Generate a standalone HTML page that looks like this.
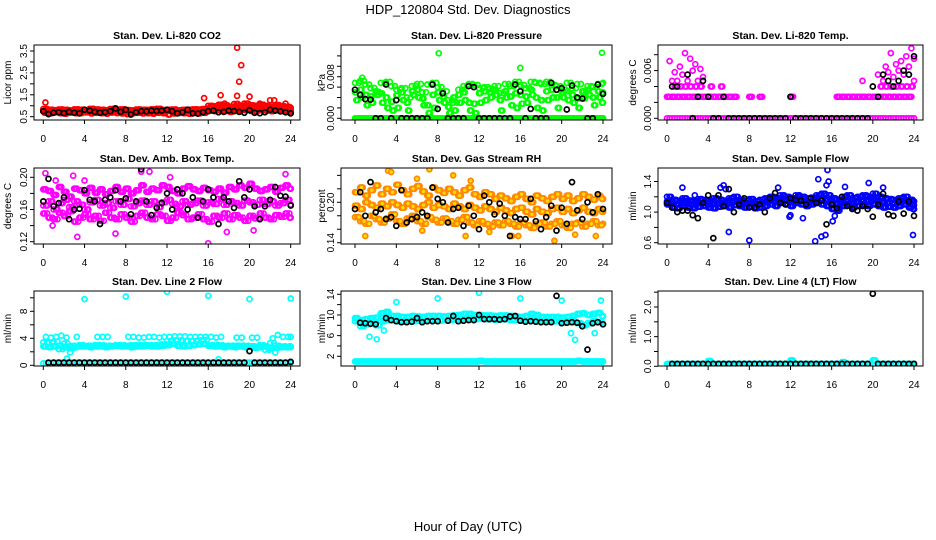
<!DOCTYPE html>
<html><head><meta charset="utf-8"><style>
html,body{margin:0;padding:0;background:#fff;}
svg{display:block;font-family:"Liberation Sans",sans-serif;}
</style></head><body>
<svg id="chart" width="936" height="540" viewBox="0 0 936 540" xmlns="http://www.w3.org/2000/svg">
<rect x="0" y="0" width="936" height="540" fill="#fff"/>
<text x="468" y="14" font-size="13" text-anchor="middle">HDP_120804  Std. Dev. Diagnostics</text>
<text x="468" y="531" font-size="13" text-anchor="middle">Hour of Day (UTC)</text>
</svg>
<script>
const hourTicks = [0,4,8,12,16,20,24];
const hours = [0,0.5,1,1.5,2,2.5,3,3.5,4,4.5,5,5.5,6,6.5,7,7.5,8,8.5,9,9.5,10,10.5,11,11.5,12,12.5,13,13.5,14,14.5,15,15.5,16,16.5,17,17.5,18,18.5,19,19.5,20,20.5,21,21.5,22,22.5,23,23.5,24];
const hoursOff = [0.25,0.75,1.25,1.75,2.25,2.75,3.25,3.75,4.25,4.75,5.25,5.75,6.25,6.75,7.25,7.75,8.25,8.75,9.25,9.75,10.25,10.75,11.25,11.75,12.25,12.75,13.25,13.75,14.25,14.75,15.25,15.75,16.25,16.75,17.25,17.75,18.25,18.75,19.25,19.75,20.25,20.75,21.25,21.75,22.25,22.75,23.25,23.75,24];
const hoursQ1 = [0.125,0.625,1.125,1.625,2.125,2.625,3.125,3.625,4.125,4.625,5.125,5.625,6.125,6.625,7.125,7.625,8.125,8.625,9.125,9.625,10.125,10.625,11.125,11.625,12.125,12.625,13.125,13.625,14.125,14.625,15.125,15.625,16.125,16.625,17.125,17.625,18.125,18.625,19.125,19.625,20.125,20.625,21.125,21.625,22.125,22.625,23.125,23.625,23.9];
const hoursQ3 = [0.375,0.875,1.375,1.875,2.375,2.875,3.375,3.875,4.375,4.875,5.375,5.875,6.375,6.875,7.375,7.875,8.375,8.875,9.375,9.875,10.375,10.875,11.375,11.875,12.375,12.875,13.375,13.875,14.375,14.875,15.375,15.875,16.375,16.875,17.375,17.875,18.375,18.875,19.375,19.875,20.375,20.875,21.375,21.875,22.375,22.875,23.375,23.875,24.5];

// CO2
const co2Red1 = [0.85,0.82,0.80,0.83,0.81,0.79,0.84,0.82,0.80,0.86,0.83,0.81,0.80,0.85,0.82,0.84,0.80,0.79,0.83,0.82,0.81,0.84,0.86,0.80,0.82,0.83,0.79,0.81,0.82,0.84,0.83,0.85,1.00,0.98,1.05,1.02,0.95,1.08,1.00,1.10,1.02,0.98,1.05,1.00,0.96,1.03,0.98,0.95,0.90];
const co2Red2 = [0.68,0.65,0.70,0.66,0.64,0.69,0.66,0.67,0.70,0.65,0.68,0.66,0.64,0.69,0.67,0.65,0.62,0.66,0.68,0.65,0.66,0.64,0.68,0.66,0.60,0.65,0.67,0.66,0.64,0.68,0.66,0.68,0.78,0.75,0.80,0.76,0.72,0.82,0.78,0.80,0.76,0.74,0.80,0.78,0.75,0.80,0.76,0.72,0.68];
const co2Red3 = [0.74,0.75,0.72,0.73,0.76,0.72,0.74,0.75,0.73,0.74,0.72,0.75,0.74,0.73,0.76,0.72,0.74,0.73,0.75,0.74,0.73,0.72,0.75,0.74,0.76,0.73,0.72,0.74,0.75,0.73,0.74,0.76,0.88,0.86,0.92,0.88,0.85,0.90,0.87,0.93,0.88,0.86,0.90,0.87,0.85,0.89,0.86,0.83,0.78];
const co2OutX = [0.2,15.6,17.2,17.6,18.8,18.8,19.0,19.2,20.0,20.6,21.0,22.0,22.4,23.5];
const co2OutY = [1.15,1.35,1.48,1.1,3.65,1.45,2.1,2.85,1.42,1.0,1.1,1.25,1.25,1.1];
const co2Black = [0.75,0.62,0.68,0.70,0.66,0.72,0.68,0.65,0.82,0.78,0.72,0.68,0.70,0.75,0.88,0.72,0.82,0.60,0.70,0.75,0.74,0.78,0.76,0.78,0.82,0.75,0.65,0.70,0.82,0.65,0.64,0.70,0.75,0.78,0.70,0.72,0.78,0.75,0.72,0.68,0.80,0.68,0.66,0.70,0.82,0.78,0.74,0.70,0.65];

// Pressure
const presZero = [0,0,0,0,0,0,0,0,0,0,0,0,0,0,0,0,0,0,0,0,0,0,0,0,0,0,0,0,0,0,0,0,0,0,0,0,0,0,0,0,0,0,0,0,0,0,0,0,0];
const presA = [0.0068,0.0072,0.0065,0.0058,0.0050,0.0068,0.0070,0.0062,0.0055,0.0058,0.0040,0.0062,0.0066,0.0050,0.0065,0.0068,0.0060,0.0052,0.0035,0.0030,0.0055,0.0062,0.0066,0.0064,0.0058,0.0060,0.0056,0.0062,0.0048,0.0066,0.0062,0.0070,0.0064,0.0058,0.0070,0.0068,0.0066,0.0070,0.0064,0.0062,0.0055,0.0068,0.0058,0.0066,0.0050,0.0062,0.0060,0.0066,0.0068];
const presB = [0.0035,0.0040,0.0025,0.0030,0.0045,0.0030,0.0020,0.0015,0.0020,0.0035,0.0015,0.0045,0.0040,0.0025,0.0010,0.0020,0.0035,0.0030,0.0010,0.0015,0.0030,0.0035,0.0015,0.0010,0.0030,0.0035,0.0040,0.0045,0.0015,0.0040,0.0025,0.0020,0.0028,0.0030,0.0045,0.0020,0.0015,0.0035,0.0040,0.0020,0.0040,0.0035,0.0030,0.0020,0.0038,0.0045,0.0025,0.0040,0.0030];
const presC = [0.0050,0.0055,0.0045,0.0042,0.0052,0.0048,0.0040,0.0032,0.0044,0.0050,0.0030,0.0052,0.0055,0.0038,0.0025,0.0045,0.0050,0.0042,0.0022,0.0040,0.0045,0.0050,0.0030,0.0028,0.0048,0.0052,0.0050,0.0055,0.0035,0.0052,0.0042,0.0048,0.0045,0.0042,0.0055,0.0040,0.0035,0.0052,0.0055,0.0040,0.0050,0.0052,0.0045,0.0038,0.0052,0.0055,0.0040,0.0052,0.0050];
const presOutX = [0.7,8.1,16.0,23.9];
const presOutY = [0.0078,0.0125,0.0097,0.0126];
const presBlack = [0.0055,0.0045,0.0037,0.0036,0,0,0.0065,0,0.0035,0,0,0,0,0,0,0.0065,0.0018,0.0048,0,0,0,0,0.0062,0.006,0,0,0,0,0,0,0,0.0065,0.0052,0,0.0018,0,0,0,0.0068,0.0055,0.0058,0.0017,0.0063,0.004,0.0038,0,0,0.0065,0.0047];

// Li-820 Temp
const tempZero = [0,0,0,0,0,0,0,0,0,0,0,0,0,0,0,0,0,0,0,0,0,0,0,0,0,0,0,0,0,0,0,0,0,0,0,0,0,0,0,0,0,0,0,0,0,0,0,0,0];
const tempRow1 = [0.0027,0.0027,0.0027,0.0027,0.0027,0.0027,0.0027,0.0027,0.0027,0.0027,0.0027,0.0027,0.0027,0.0027,null,null,0.0027,null,0.0027,null,null,null,null,null,0.0027,null,null,null,null,null,null,null,null,0.0027,0.0027,0.0027,0.0027,0.0027,0.0027,0.0027,0.0027,0.0027,0.0027,0.0027,0.0027,0.0027,0.0027,0.0027,null];
const tempRow2 = [null,0.004,0.004,0.004,0.004,0.004,0.004,null,0.004,null,0.004,null,null,null,null,null,null,null,null,null,null,null,null,null,null,null,null,null,null,null,null,null,null,null,null,null,null,null,null,null,null,0.004,0.004,0.004,0.004,0.004,0.004,0.004,null];
const tempRow3 = [null,0.0047,0.0047,0.0055,0.0047,0.006,0.0047,0.0052,null,null,null,null,null,null,null,null,null,null,null,null,null,null,null,null,null,null,null,null,null,null,null,null,null,null,null,null,null,null,0.0047,null,null,0.0055,0.0047,0.0058,0.0052,0.006,0.0055,0.0065,0.0047];
const tempRow4 = [0.0072,0.0058,0.0065,0.0082,0.0075,0.0068,0.0062,null,null,null,null,null,null,null,null,null,null,null,null,null,null,null,null,null,null,null,null,null,null,null,null,null,null,null,null,null,null,null,null,null,null,null,0.0065,0.0082,0.0068,0.0072,0.0078,0.0088,0.0075];
const tempBlack = [null,0.004,0.004,null,0.0055,0,0.0027,0.0047,0.0027,0,0,0.0027,0,0,0,0,0,0,0,0,0,0,0,0,0.0027,0,0,0,0,0,0,0,0,0,0,0,0,0,0,0,0.004,0.0027,0.0055,0.0047,0.004,0.0047,0.006,0.0055,0.0078];

// Amb box temp
const ambA = [0.185,0.183,0.178,0.188,0.182,0.176,0.186,0.184,0.180,0.187,0.181,0.185,0.179,0.183,0.188,0.182,0.186,0.180,0.184,0.190,0.182,0.186,0.184,0.190,0.188,0.183,0.180,0.186,0.189,0.185,0.183,0.187,0.184,0.182,0.186,0.181,0.188,0.185,0.190,0.187,0.192,0.186,0.183,0.185,0.188,0.182,0.187,0.190,0.186];
const ambB = [0.165,0.170,0.160,0.168,0.172,0.163,0.170,0.166,0.160,0.169,0.172,0.165,0.168,0.162,0.170,0.166,0.173,0.164,0.168,0.171,0.166,0.170,0.163,0.169,0.172,0.167,0.164,0.170,0.166,0.168,0.171,0.165,0.169,0.167,0.173,0.166,0.170,0.168,0.165,0.171,0.169,0.166,0.172,0.167,0.170,0.165,0.168,0.172,0.166];
const ambC = [0.155,0.150,0.148,0.156,0.152,0.158,0.145,0.150,0.154,0.148,0.152,0.146,0.156,0.150,0.148,0.154,0.150,0.145,0.152,0.156,0.150,0.148,0.154,0.152,0.146,0.150,0.156,0.153,0.148,0.150,0.154,0.148,0.145,0.152,0.150,0.155,0.148,0.153,0.150,0.146,0.152,0.149,0.155,0.150,0.148,0.153,0.151,0.155,0.150];
const ambOutX = [0.2,3.3,2.9,10.3,16.0,9.5,23.5,12.3,0.9,7.0,17.8,20.4,1.2,4.0];
const ambOutY = [0.205,0.126,0.202,0.207,0.118,0.207,0.204,0.200,0.140,0.130,0.132,0.134,0.196,0.196];
const ambBlack = [0.170,0.198,0.164,0.168,0.175,0.148,0.160,0.161,0.184,0.172,0.170,0.142,0.172,0.175,0.184,0.170,0.174,0.154,0.170,0.210,0.170,0.153,0.162,0.168,0.180,0.160,0.185,0.180,0.160,0.175,0.150,0.170,0.185,0.175,0.142,0.175,0.170,0.162,0.195,0.175,0.185,0.164,0.148,0.164,0.172,0.188,0.177,0.176,0.165];

// Gas stream RH
const rhA = [0.215,0.222,0.210,0.218,0.225,0.212,0.220,0.215,0.226,0.218,0.212,0.220,0.224,0.216,0.210,0.222,0.218,0.214,0.220,0.215,0.210,0.218,0.222,0.212,0.208,0.215,0.212,0.205,0.210,0.206,0.202,0.208,0.212,0.205,0.200,0.210,0.206,0.202,0.208,0.212,0.205,0.210,0.202,0.206,0.212,0.208,0.204,0.210,0.205];
const rhB = [0.195,0.190,0.200,0.196,0.192,0.198,0.194,0.200,0.196,0.192,0.198,0.194,0.190,0.196,0.200,0.192,0.196,0.194,0.190,0.198,0.194,0.190,0.196,0.192,0.188,0.194,0.190,0.186,0.192,0.188,0.184,0.190,0.192,0.186,0.182,0.190,0.186,0.184,0.190,0.192,0.186,0.190,0.184,0.188,0.192,0.186,0.184,0.190,0.186];
const rhC = [0.178,0.172,0.168,0.180,0.175,0.170,0.176,0.182,0.172,0.168,0.176,0.180,0.172,0.168,0.178,0.174,0.170,0.176,0.172,0.168,0.174,0.178,0.170,0.166,0.172,0.168,0.164,0.170,0.166,0.172,0.168,0.164,0.170,0.166,0.162,0.168,0.170,0.164,0.168,0.172,0.166,0.162,0.168,0.170,0.164,0.168,0.172,0.166,0.168];
const rhOutX = [3.2,3.5,7.2,9.5,6.0,11.2,15.8,19.3,1.0,15.2,21.3,10.7,23.3,6.5,13.0];
const rhOutY = [0.247,0.245,0.249,0.240,0.235,0.232,0.150,0.143,0.150,0.150,0.152,0.150,0.150,0.158,0.156];
const rhBlack = [0.190,0.215,0.180,0.230,0.185,0.190,0.175,0.178,0.165,0.218,0.170,0.175,0.178,0.185,0.180,0.222,0.205,0.200,0.170,0.190,0.192,0.165,0.195,0.180,0.160,0.210,0.200,0.182,0.198,0.180,0.150,0.178,0.175,0.175,0.205,0.172,0.160,0.178,0.195,0.158,0.192,0.168,0.230,0.188,0.175,0.200,0.185,0.212,0.190];

// Sample flow
const sfA = [1.20,1.16,1.15,1.18,1.15,1.14,1.17,1.16,1.15,1.18,1.16,1.15,1.18,1.20,1.16,1.15,1.17,1.14,1.16,1.18,1.20,1.18,1.22,1.20,1.18,1.22,1.20,1.18,1.19,1.22,1.24,1.22,1.18,1.16,1.20,1.22,1.18,1.20,1.22,1.20,1.24,1.20,1.18,1.17,1.16,1.18,1.20,1.16,1.14];
const sfB = [1.10,1.06,1.05,1.08,1.06,1.05,1.07,1.08,1.06,1.05,1.07,1.08,1.06,1.09,1.08,1.06,1.07,1.05,1.06,1.08,1.10,1.08,1.12,1.10,1.08,1.12,1.10,1.08,1.10,1.12,1.10,1.08,1.04,1.02,1.08,1.10,1.06,1.08,1.10,1.08,1.10,1.08,1.06,1.07,1.06,1.08,1.10,1.06,1.04];
const sfC = [1.14,1.11,1.10,1.12,1.11,1.10,1.12,1.12,1.10,1.12,1.11,1.12,1.12,1.14,1.12,1.10,1.12,1.10,1.11,1.13,1.15,1.13,1.17,1.15,1.13,1.17,1.15,1.13,1.14,1.17,1.17,1.15,1.12,1.10,1.14,1.16,1.12,1.14,1.16,1.14,1.17,1.14,1.12,1.12,1.11,1.13,1.15,1.11,1.09];
const sfOutX = [1.5,5.2,5.5,5.7,6.0,8.0,10.8,11.9,12.0,13.2,14.4,14.7,15.0,15.4,15.6,15.7,15.5,16.1,16.3,17.3,19.6,21.0,23.9,2.7];
const sfOutY = [1.32,1.32,1.35,1.30,0.74,0.63,1.32,0.94,0.96,0.92,0.62,1.43,0.68,0.70,1.55,1.40,1.35,0.88,0.95,1.33,1.38,1.32,0.70,1.22];
const sfBlack = [1.12,1.06,1.00,1.02,1.02,0.96,0.92,1.12,1.22,0.66,1.22,1.08,1.30,1.00,1.10,1.18,1.06,1.06,1.10,1.00,1.18,1.25,1.12,1.10,1.18,1.16,1.15,1.10,1.18,1.12,1.15,0.84,1.10,1.05,1.20,1.08,1.04,1.02,1.08,1.04,0.94,1.10,1.24,0.97,0.95,1.14,0.98,1.14,0.95];

// Line 2 flow
const l2Main = [2.8,2.7,2.8,2.9,2.7,2.8,2.7,2.8,2.8,2.7,2.8,2.8,2.7,2.8,2.9,2.8,2.8,2.7,2.8,2.8,2.9,2.8,2.8,2.9,3.0,3.2,2.9,2.8,2.9,3.0,3.1,3.2,2.9,2.8,2.8,2.7,2.8,2.7,2.8,2.7,2.8,2.6,2.7,2.8,2.5,2.6,2.7,2.7,2.7];
const l2Main2 = [3.4,3.3,3.5,2.4,3.2,2.5,2.9,3.0,2.9,2.9,3.0,3.0,2.9,2.9,3.0,3.0,2.9,3.0,3.0,3.0,3.0,3.0,3.0,3.1,3.6,3.7,3.7,3.6,3.6,3.6,3.7,3.8,3.0,3.0,3.0,2.9,2.9,2.9,2.9,2.9,2.8,2.8,3.0,2.3,3.3,2.9,2.8,2.8,2.8];
const l2Upper = [4.2,4.1,4.2,4.4,4.1,null,4.2,null,null,null,4.2,4.2,4.2,null,null,null,4.2,4.2,4.1,4.1,4.2,4.2,4.1,4.2,4.2,4.3,4.3,4.3,4.2,4.2,4.2,4.2,4.2,4.1,4.2,null,null,4.1,4.1,null,4.1,4.1,null,null,4.0,4.5,4.2,4.2,4.2];
const l2Low = [0.3,0.35,0.4,0.4,0.4,0.4,0.4,0.4,0.4,0.4,0.4,0.4,0.4,0.4,0.4,0.4,0.4,0.4,0.4,0.4,0.4,0.4,0.4,0.4,0.4,0.4,0.4,0.4,0.4,0.4,0.4,0.4,0.4,0.4,0.4,0.4,0.4,0.4,0.4,0.4,0.4,0.4,0.4,0.4,0.4,0.4,0.4,0.4,0.4];
const l2OutX = [4.0,8.0,12.0,16.0,20.0,24.0,2.3,2.6,17.0,22.5];
const l2OutY = [9.8,10.2,10.9,10.3,9.8,9.9,1.0,1.9,0.9,1.9];
const l2Black = [null,0.4,0.4,0.4,0.4,0.4,0.4,0.4,0.4,0.4,0.4,0.4,0.4,0.4,0.4,0.4,0.4,0.4,0.4,0.4,0.4,0.4,0.4,0.4,0.4,0.4,0.4,0.4,0.4,0.4,0.4,0.4,0.4,0.4,0.4,0.4,0.4,0.4,0.4,0.4,2.1,0.4,0.4,0.4,0.4,0.4,0.4,0.4,0.5];

// Line 3 flow
const l3Low = [1.0,1.0,1.0,1.0,1.0,1.0,1.0,1.0,1.0,1.0,1.0,1.0,1.0,1.0,1.0,1.0,1.0,1.0,1.0,1.0,1.0,1.0,1.0,1.0,1.1,1.0,1.0,1.0,1.0,1.0,1.0,1.0,1.0,1.0,1.0,1.0,1.0,1.0,1.0,1.0,1.0,1.0,1.0,1.1,1.0,1.0,1.0,1.0,1.0];
const l3A = [9.4,9.0,9.2,9.4,9.5,10.3,10.6,9.8,9.8,9.6,9.6,9.8,9.7,9.6,9.8,9.8,9.8,9.7,9.8,9.9,10.0,10.2,10.2,10.0,10.0,9.9,9.9,9.8,9.9,9.9,9.8,9.7,9.6,9.8,10.2,10.0,9.6,9.6,9.6,9.6,9.5,9.6,9.8,10.2,10.3,10.0,10.2,10.4,9.8];
const l3B = [8.8,7.8,8.2,8.5,8.0,8.8,9.0,9.0,8.8,8.9,8.9,8.8,8.9,8.9,9.0,9.0,8.9,9.0,9.0,9.1,9.2,9.3,9.2,9.2,9.3,9.2,9.2,9.1,9.2,9.2,9.0,9.0,8.9,9.0,9.1,9.0,8.9,8.8,8.8,8.8,8.6,8.6,8.6,8.4,8.0,8.4,8.8,8.6,8.2];
const l3OutX = [4.0,8.0,12.0,16.0,20.0,23.8,1.4,2.1,2.8,21.3,20.9,23.2];
const l3OutY = [12.5,13.2,14.3,13.2,12.8,12.8,5.8,5.3,7.0,5.2,6.5,6.5];
const l3Black = [null,8.5,8.4,8.3,8.2,null,9.4,9.0,8.8,8.6,8.6,8.7,9.4,8.6,8.8,8.8,8.8,null,8.9,9.8,8.8,8.9,9.0,9.0,10.0,9.2,9.2,9.2,9.1,9.2,9.7,9.8,8.9,8.7,8.8,8.7,8.6,8.6,8.6,13.7,8.4,8.5,8.6,8.5,7.8,3.3,8.4,8.6,8.2];

// Line 4 flow
const l4Cyan = [0.08,0.08,0.08,0.08,0.08,0.08,0.08,0.08,0.18,0.08,0.08,0.08,0.08,0.08,0.08,0.08,0.08,0.08,0.08,0.08,0.08,0.08,0.08,0.08,0.20,0.08,0.08,0.08,0.08,0.08,0.08,0.08,0.08,0.08,0.14,0.08,0.08,0.08,0.08,0.08,0.20,0.08,0.08,0.08,0.08,0.08,0.08,0.08,0.08];
const l4Black = [null,0.08,0.08,0.08,0.08,0.08,0.08,0.08,0.08,0.08,0.08,0.08,0.08,0.08,0.08,0.08,0.08,0.08,0.08,0.08,0.08,0.08,0.08,0.08,0.08,0.08,0.08,0.08,0.08,0.08,0.08,0.08,0.08,0.08,0.08,0.08,0.08,0.08,0.08,0.08,2.45,0.08,0.08,0.08,0.08,0.08,0.08,0.08,0.08];

const cols = [{l:34,r:300,x0:43.3,x24:290.7,lab:7},{l:341,r:612,x0:355,x24:603,lab:321},{l:658,r:923,x0:667,x24:914,lab:632}];
const rows = [{t:45,b:120,tt:39,xl:142},{t:168,b:244,tt:162,xl:266},{t:291,b:366,tt:285,xl:388}];

const panels = [
 {name:'co2',title:'Stan. Dev. Li-820 CO2',ylab:'Licor ppm',c:0,r:0,v0:0.5,p0:116.7,v1:3.5,p1:51,ticks:[0.5,1,1.5,2,2.5,3,3.5],labels:['0.5','1.5','2.5','3.5'],color:'#ff0000',
  cloud:[[hours,co2Red1],[hoursOff,co2Red2],[hours,co2Red3],[hoursQ1,co2Red2],[hoursQ3,co2Red1],[hoursQ1,co2Red3],[hoursOff,co2Red1],[hoursQ3,co2Red3]],out:[co2OutX,co2OutY],black:co2Black},
 {name:'pressure',title:'Stan. Dev. Li-820 Pressure',ylab:'kPa',c:1,r:0,v0:0,p0:118.3,v1:0.008,p1:76.7,ticks:[0,0.002,0.004,0.006,0.008,0.010,0.012],labels:['0.000','0.008'],color:'#00ff00',
  cloud:[[hours,presZero],[hoursOff,presZero],[hoursQ1,presZero],[hoursQ3,presZero],[hours,presA],[hoursOff,presB],[hours,presC],[hoursQ1,presB],[hoursQ3,presA],[hoursQ1,presC]],out:[presOutX,presOutY],black:presBlack},
 {name:'li820-temp',title:'Stan. Dev. Li-820 Temp.',ylab:'degrees C',c:2,r:0,v0:0,p0:118.3,v1:0.006,p1:70.6,ticks:[0,0.002,0.004,0.006,0.008],labels:['0.000','0.006'],color:'#ff00ff',
  cloud:[[hours,tempZero],[hoursOff,tempZero],[hoursOff,tempRow1],[hours,tempRow1],[hoursQ1,tempRow1],[hoursOff,tempRow2],[hoursQ3,tempRow2],[hours,tempRow3],[hoursOff,tempRow4]],out:[[],[]],black:tempBlack},
 {name:'amb-box-temp',title:'Stan. Dev. Amb. Box Temp.',ylab:'degrees C',c:0,r:1,v0:0.12,p0:241.7,v1:0.20,p1:177.3,ticks:[0.12,0.14,0.16,0.18,0.20],labels:['0.12','0.16','0.20'],color:'#ff00ff',
  cloud:[[hours,ambA],[hoursOff,ambB],[hours,ambC],[hoursOff,ambA],[hours,ambB],[hoursQ1,ambC],[hoursQ3,ambB],[hoursQ1,ambA],[hoursQ3,ambC]],out:[ambOutX,ambOutY],black:ambBlack},
 {name:'gas-stream-rh',title:'Stan. Dev. Gas Stream RH',ylab:'percent',c:1,r:1,v0:0.14,p0:242.7,v1:0.20,p1:202.3,ticks:[0.14,0.16,0.18,0.20,0.22,0.24],labels:['0.14','0.20'],color:'#ff8800',fill:'#ffdd00',
  cloud:[[hours,rhA],[hoursOff,rhB],[hours,rhC],[hoursOff,rhA],[hours,rhB],[hoursOff,rhC],[hoursQ1,rhA],[hoursQ3,rhC],[hoursQ1,rhB]],out:[rhOutX,rhOutY],black:rhBlack},
 {name:'sample-flow',title:'Stan. Dev. Sample Flow',ylab:'ml/min',c:2,r:1,v0:0.6,p0:242.7,v1:1.4,p1:181.5,ticks:[0.6,0.8,1.0,1.2,1.4],labels:['0.6','1.0','1.4'],color:'#0000ff',
  cloud:[[hours,sfA],[hoursOff,sfB],[hours,sfC],[hoursOff,sfA],[hours,sfB],[hoursQ1,sfC],[hoursQ3,sfA],[hoursQ1,sfB],[hoursQ3,sfC]],out:[sfOutX,sfOutY],black:sfBlack},
 {name:'line2-flow',title:'Stan. Dev. Line 2 Flow',ylab:'ml/min',c:0,r:2,v0:0,p0:365.3,v1:8,p1:311.3,ticks:[0,2,4,6,8,10],labels:['0','4','8'],color:'#00ffff',
  cloud:[[hours,l2Low],[hoursOff,l2Low],[hours,l2Main],[hoursOff,l2Main],[hoursQ1,l2Main],[hoursQ3,l2Main2],[hours,l2Main2],[hoursOff,l2Upper]],out:[l2OutX,l2OutY],black:l2Black},
 {name:'line3-flow',title:'Stan. Dev. Line 3 Flow',ylab:'ml/min',c:1,r:2,v0:2,p0:356.3,v1:14,p1:294.3,ticks:[2,4,6,8,10,12,14],labels:['2','6','10','14'],color:'#00ffff',
  cloud:[[hours,l3Low],[hoursOff,l3Low],[hoursQ1,l3Low],[hoursQ3,l3Low],[hours,l3A],[hoursOff,l3B],[hours,l3B],[hoursOff,l3A],[hoursQ1,l3A],[hoursQ3,l3B]],out:[l3OutX,l3OutY],black:l3Black},
 {name:'line4-flow',title:'Stan. Dev. Line 4 (LT) Flow',ylab:'ml/min',c:2,r:2,v0:0,p0:366.3,v1:2,p1:307,ticks:[0,0.5,1,1.5,2,2.5],labels:['0.0','1.0','2.0'],color:'#00ffff',
  cloud:[[hours,l4Cyan],[hoursOff,l4Cyan],[hoursQ1,l4Cyan]],out:[[],[]],black:l4Black}
];

const NS = 'http://www.w3.org/2000/svg';
const svg = document.getElementById('chart');
function mk(tag, attrs, parent){
  const e = document.createElementNS(NS, tag);
  for (const k in attrs) e.setAttribute(k, attrs[k]);
  parent.appendChild(e);
  return e;
}
function fmtLabel(v, labels){
  for (const s of labels) if (Math.abs(parseFloat(s) - v) < 1e-9) return s;
  return null;
}

panels.forEach(p => {
  const col = cols[p.c], row = rows[p.r];
  const xs = h => col.x0 + (h / 24) * (col.x24 - col.x0);
  const ys = v => p.p0 + (v - p.v0) * (p.p1 - p.p0) / (p.v1 - p.v0);
  const g = mk('g', {}, svg);
  
  
  const cp = mk('clipPath', {id: 'clip-' + p.name}, g);
  mk('rect', {x: col.l, y: row.t, width: col.r - col.l, height: row.b - row.t}, cp);

  const t = mk('text', {x: (col.l + col.r) / 2, y: row.tt, 'font-size': 10.5, 'font-weight': 'bold', 'text-anchor': 'middle'}, g);
  t.textContent = p.title;
  
  

  const yl = mk('text', {x: 0, y: 0, 'font-size': 10, 'text-anchor': 'middle', transform: 'translate(' + (col.lab + 4) + ',' + ((row.t + row.b) / 2) + ') rotate(-90)'}, g);
  yl.textContent = p.ylab;
  
  

  const pts = mk('g', {'clip-path': 'url(#clip-' + p.name + ')'}, g);
  
  
  const dot = (h, v, stroke, fill, sw, nm) => {
    if (v === null || v === undefined || h > 24) return;
    const c = mk('circle', {cx: xs(h).toFixed(1), cy: ys(v).toFixed(1), r: 2.5, fill: fill, stroke: stroke, 'stroke-width': sw}, pts);
    
    
  };
  p.cloud.forEach(([hx, vals]) => vals.forEach((v, i) => dot(hx[i], v, p.color, p.fill || 'none', 1.7, 'point-' + p.name)));
  p.out[0].forEach((h, i) => dot(h, p.out[1][i], p.color, p.fill || 'none', 1.7, 'outlier-' + p.name));
  p.black.forEach((v, i) => dot(hours[i], v, '#000', 'none', 1.7, 'point-black-' + p.name));

  const box = mk('rect', {x: col.l, y: row.t, width: col.r - col.l, height: row.b - row.t, fill: 'none', stroke: '#000', 'stroke-width': 1}, g);
  
  

  hourTicks.forEach(h => {
    mk('line', {x1: xs(h), x2: xs(h), y1: row.b, y2: row.b + 4, stroke: '#000'}, g);
    const tl = mk('text', {x: xs(h), y: row.xl, 'font-size': 10, 'text-anchor': 'middle'}, g);
    tl.textContent = String(h);
    
    
  });
  p.ticks.forEach(v => {
    const y = ys(v);
    mk('line', {x1: col.l - 4, x2: col.l, y1: y, y2: y, stroke: '#000'}, g);
    const s = fmtLabel(v, p.labels);
    if (s !== null) {
      const tl = mk('text', {x: 0, y: 0, 'font-size': 10, 'text-anchor': 'middle', transform: 'translate(' + (col.l - 7) + ',' + y + ') rotate(-90)'}, g);
      tl.textContent = s;
      
      
    }
  });
});
</script>
</body></html>
